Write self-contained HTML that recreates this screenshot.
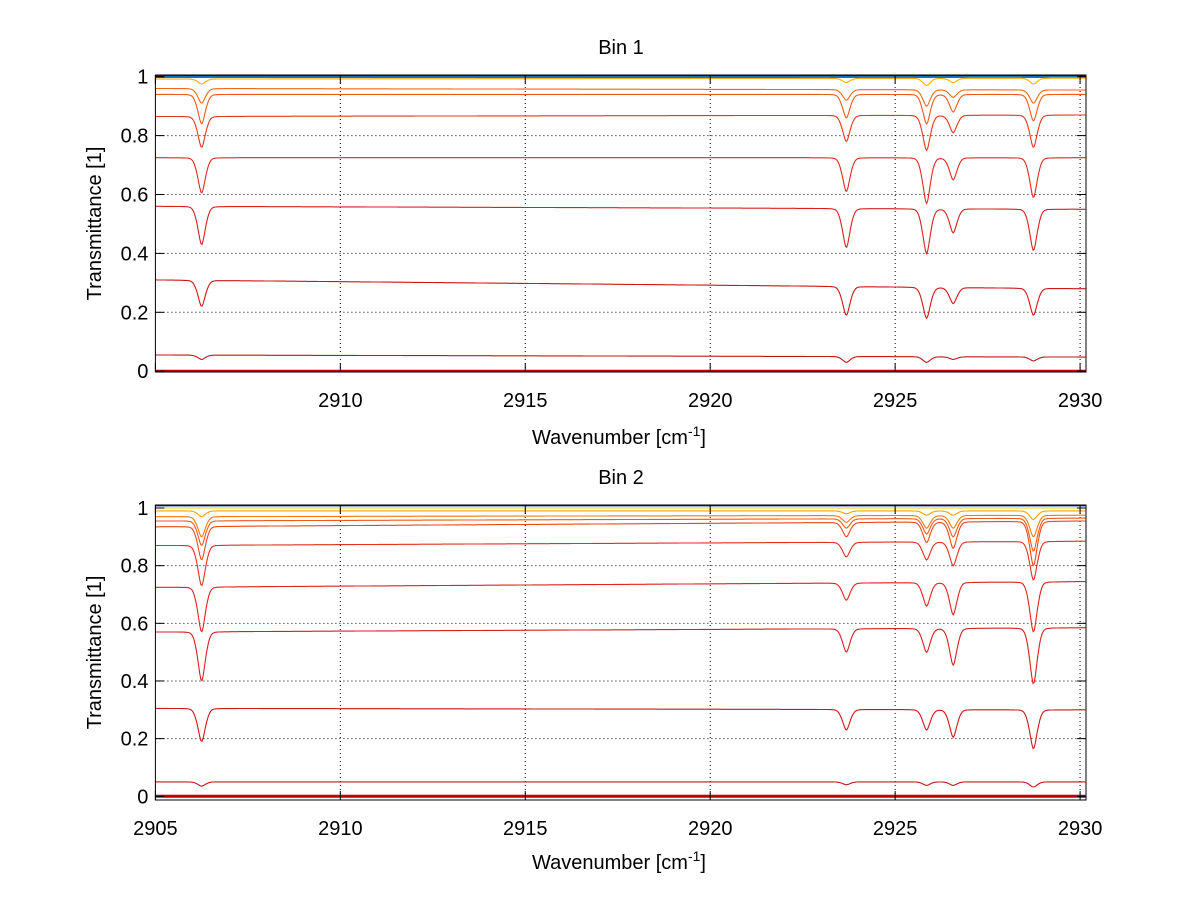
<!DOCTYPE html>
<html><head><meta charset="utf-8">
<style>
body{margin:0;background:#fff;}
svg{display:block;font-family:"Liberation Sans",sans-serif;}
</style></head>
<body>
<svg id="fig" width="1200" height="901" viewBox="0 0 1200 901"></svg>
<script>
// ---- data ----
const peakPositions = [2906.25, 2923.68, 2925.85, 2926.57, 2928.74];
const xTicks = [2905, 2910, 2915, 2920, 2925, 2930];
const yTicks = [0, 0.2, 0.4, 0.6, 0.8, 1];
const yTickLabels = ["0", "0.2", "0.4", "0.6", "0.8", "1"];

// Bin 1: baseline at left, baseline at right, minimum at each peak
const bin1Left  = [1.0, 0.999, 0.992, 0.96, 0.94, 0.865, 0.725, 0.56, 0.31, 0.055, 0.0];
const bin1Right = [1.0, 0.999, 0.995, 0.955, 0.94, 0.87, 0.725, 0.55, 0.28, 0.048, 0.0];
const bin1Mins = [
  [1.0, 1.0, 1.0, 1.0, 1.0],
  [0.999, 0.999, 0.999, 0.999, 0.999],
  [0.975, 0.98, 0.97, 0.98, 0.975],
  [0.91, 0.92, 0.9, 0.93, 0.91],
  [0.84, 0.86, 0.84, 0.88, 0.85],
  [0.76, 0.78, 0.75, 0.81, 0.76],
  [0.605, 0.61, 0.57, 0.65, 0.59],
  [0.43, 0.42, 0.40, 0.47, 0.41],
  [0.22, 0.19, 0.18, 0.23, 0.19],
  [0.04, 0.03, 0.03, 0.04, 0.035],
  [0.0, 0.0, 0.0, 0.0, 0.0]
];
// Bin 2
const bin2Left  = [1.01, 1.0, 0.99, 0.97, 0.955, 0.935, 0.87, 0.725, 0.57, 0.305, 0.05, 0.0];
const bin2Right = [1.01, 1.0, 0.99, 0.975, 0.965, 0.955, 0.885, 0.745, 0.585, 0.30, 0.05, 0.0];
const bin2Mins = [
  [1.01, 1.01, 1.01, 1.01, 1.01],
  [1.0, 1.0, 1.0, 1.0, 1.0],
  [0.97, 0.98, 0.975, 0.975, 0.96],
  [0.9, 0.95, 0.93, 0.93, 0.9],
  [0.87, 0.93, 0.91, 0.9, 0.85],
  [0.82, 0.9, 0.88, 0.86, 0.8],
  [0.73, 0.83, 0.82, 0.80, 0.75],
  [0.57, 0.68, 0.66, 0.63, 0.57],
  [0.40, 0.50, 0.50, 0.455, 0.39],
  [0.19, 0.23, 0.23, 0.205, 0.165],
  [0.035, 0.04, 0.038, 0.038, 0.032],
  [0.0, 0.0, 0.0, 0.0, 0.0]
];
const bin1Colors = ["#00209f","#2fc0e0","#ffb000","#f06a10","#ec5a18","#e03a1c","#dc2a20","#d62020","#cc1818","#c01818","#c00000"];
const bin2Colors = ["#00209f","#f0d000","#ffa000","#f07a10","#ec5a18","#e84a18","#e03020","#dc2420","#d42020","#cc1818","#c01818","#c00000"];

const NS = "http://www.w3.org/2000/svg";
const svg = document.getElementById("fig");
function mk(tag, attrs, parent) {
  const e = document.createElementNS(NS, tag);
  for (const k in attrs) e.setAttribute(k, attrs[k]);
  (parent || svg).appendChild(e);
  return e;
}
const X0 = 155.4, X1 = 1086, XMIN = 2905, XMAX = 2930.16;
function xs(v){ return X0 + (v - XMIN) * (X1 - X0) / (XMAX - XMIN); }

function panel(opts) {
  const g = mk("g", {});
  
  
  const ys = v => opts.y0 - v * opts.scale;
  const top = opts.top, bot = opts.bot;
  const clipId = "clip" + opts.idx;
  const cp = mk("clipPath", {id: clipId}, g);
  mk("rect", {x: X0, y: top, width: X1 - X0, height: bot - top}, cp);
  xTicks.forEach(t => {
    if (t <= XMIN) return;
    const l = mk("line", {x1: xs(t), x2: xs(t), y1: top, y2: bot, stroke: "#000", "stroke-width": 1, "stroke-dasharray": "1,3"}, g);
    
    
  });
  yTicks.forEach(t => {
    if (t <= 0) return;
    const l = mk("line", {x1: X0, x2: X1, y1: ys(t), y2: ys(t), stroke: "#000", "stroke-width": 1, "stroke-dasharray": "1,3"}, g);
    
    
  });
  const sg = mk("g", {"clip-path": "url(#" + clipId + ")"}, g);
  opts.left.forEach((lv, i) => {
    const rv = opts.right[i], mins = opts.mins[i];
    let d = "";
    for (let x = XMIN; x <= XMAX + 0.001; x += 0.03) {
      const f = (x - XMIN) / (XMAX - XMIN);
      let v = lv + (rv - lv) * f;
      peakPositions.forEach((p, k) => {
        const depth = (lv + (rv - lv) * (p - XMIN) / (XMAX - XMIN)) - mins[k];
        const dx = (x - p) / 0.11;
        v -= depth * (0.75 * Math.exp(-dx * dx / 2) + 0.25 / (1 + dx * dx * 2));
      });
      d += (d ? "L" : "M") + xs(x).toFixed(1) + "," + ys(v).toFixed(1);
    }
    const w = (lv === 0) ? 3 : (i === 0 ? 2.5 : 1.1);
    const p = mk("path", {d: d, fill: "none", stroke: opts.colors[i], "stroke-width": w}, sg);
    
    
  });
  const fr = mk("rect", {x: X0, y: top, width: X1 - X0, height: bot - top, fill: "none", stroke: "#000", "stroke-width": 1}, g);
  
  
  xTicks.forEach(t => {
    const x = xs(t);
    mk("line", {x1: x, x2: x, y1: bot, y2: bot - 9, stroke: "#000"}, g);
    mk("line", {x1: x, x2: x, y1: top, y2: top + 9, stroke: "#000"}, g);
    if (t === 2905 && !opts.show2905) return;
    const tx = mk("text", {x: x, y: bot + 35, "font-size": 20, "text-anchor": "middle", fill: "#000"}, g);
    tx.textContent = String(t);
    
    
  });
  yTicks.forEach((t, i) => {
    const y = ys(t);
    mk("line", {x1: X0, x2: X0 + 9, y1: y, y2: y, stroke: "#000"}, g);
    mk("line", {x1: X1, x2: X1 - 9, y1: y, y2: y, stroke: "#000"}, g);
    const tx = mk("text", {x: X0 - 7, y: y + 7, "font-size": 20, "text-anchor": "end", fill: "#000"}, g);
    tx.textContent = yTickLabels[i];
    
    
  });
  const tt = mk("text", {x: 621, y: top - 21, "font-size": 20, "text-anchor": "middle"}, g);
  tt.textContent = opts.title;
  
  
  const yl = mk("text", {x: 0, y: 0, "font-size": 20, "text-anchor": "middle", transform: "translate(101," + ((top + bot) / 2) + ") rotate(-90)"}, g);
  yl.textContent = "Transmittance [1]";
  
  
  const xl = mk("text", {x: 619, y: bot + opts.xtOff, "font-size": 20, "text-anchor": "middle"}, g);
  xl.innerHTML = 'Wavenumber [cm<tspan dy="-8" font-size="14">-1</tspan><tspan dy="8">]</tspan>';
  
  
}
panel({idx: 1, name: "bin1-panel", title: "Bin 1", top: 75, bot: 372, y0: 371.2, scale: 294.5, xtOff: 72,
       left: bin1Left, right: bin1Right, mins: bin1Mins, colors: bin1Colors, show2905: false});
panel({idx: 2, name: "bin2-panel", title: "Bin 2", top: 505, bot: 800, y0: 796.3, scale: 288.3, xtOff: 69,
       left: bin2Left, right: bin2Right, mins: bin2Mins, colors: bin2Colors, show2905: true});
</script>
</body></html>
